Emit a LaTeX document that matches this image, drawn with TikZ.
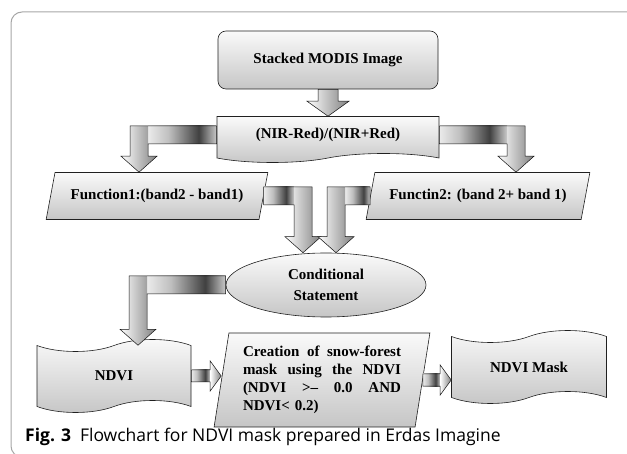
\documentclass[tikz,border=0pt]{standalone}
\usepackage{fontspec}
\setmainfont{Liberation Serif}
\newfontfamily\capfont{Open Sans}
\usetikzlibrary{shapes.geometric,shapes.symbols,calc}

\pgfdeclarehorizontalshading{metal}{100bp}{color(0bp)=(black!60); color(18bp)=(white); color(40bp)=(black!25); color(62bp)=(black!75); color(80bp)=(white); color(100bp)=(black!55)}

\tikzset{
  flowbox/.style={draw=gray!25!black, line width=0.6pt, top color=gray!4, bottom color=gray!45,
    font=\bfseries\fontsize{15}{18}\selectfont, align=center},
  slantbox/.style={flowbox, trapezium, trapezium stretches=true},
  barfill/.style={shading=metal},
  shaftfill/.style={left color=white, right color=black!50},
  arrowline/.style={draw=gray!15!black, line width=0.5pt}
}

% bent block arrow: #1 = 1 (bar runs right) or -1 (bar runs left), #2 = start, #3 = tip
\newcommand{\bentarrow}[3]{%
  \shade[barfill] ($(#2)+(0,-9)$) rectangle ($(#3|-#2)+(#1*-9,9)$);
  \shade[shaftfill] ($(#3|-#2)+(-9,-9)$) -- ($(#3)+(-9,-16)$) -- ($(#3)+(-18,-16)$) -- (#3)
    -- ($(#3)+(18,-16)$) -- ($(#3)+(9,-16)$) -- ($(#3|-#2)+(9,-9)$) -- cycle;
  \path[arrowline] ($(#2)+(0,-9)$) -- ($(#3|-#2)+(#1*9,-9)$) -- ($(#3)+(#1*9,-16)$)
    -- ($(#3)+(#1*18,-16)$) -- (#3) -- ($(#3)+(#1*-18,-16)$) -- ($(#3)+(#1*-9,-16)$)
    -- ($(#3|-#2)+(#1*-9,9)$) -- ($(#2)+(0,9)$) -- cycle;}
% short block arrow to the right
\newcommand{\sidearrow}[2]{%
  \shade[barfill] ($(#1)+(0,-6)$) rectangle ($(#2|-#1)+(-11,6)$);
  \shade[shaftfill] ($(#2|-#1)+(-11,-15)$) -- (#2|-#1) -- ($(#2|-#1)+(-11,15)$) -- cycle;
  \path[arrowline] ($(#1)+(0,-6)$) -- ($(#2|-#1)+(-11,-6)$) -- ($(#2|-#1)+(-11,-15)$)
    -- (#2|-#1) -- ($(#2|-#1)+(-11,15)$) -- ($(#2|-#1)+(-11,6)$) -- ($(#1)+(0,6)$) -- cycle;}

\begin{document}
\begin{tikzpicture}[x=1pt, y=-1pt]
    \useasboundingbox (0,0) rectangle (627,454);

    % Frame
    \draw[gray!70, line width=1pt, rounded corners=11pt] (640,12) -- (11,12) -- (11,457) -- (640,457);

    % Boxes
    \node[flowbox, rounded corners=8pt, minimum width=220pt, minimum height=58pt] (stack) at (328,60) {Stacked MODIS Image};
    \node[flowbox, tape, tape bend top=none, tape bend bottom=in and out, tape bend height=9pt,
          minimum width=222pt, minimum height=46pt] (nir) at (328,135) {(NIR-Red)/(NIR+Red)};

    \node[slantbox, trapezium left angle=69, trapezium right angle=111, minimum width=222pt, minimum height=47pt] (f1) at (157,196) {Function1:(band2 - band1)};
    \node[slantbox, trapezium left angle=69, trapezium right angle=111, minimum width=224pt, minimum height=47pt] (f2) at (478,196) {Functin2: (band 2+ band 1)};

    \node[flowbox, ellipse, minimum width=200pt, minimum height=64pt] (cond) at (326,285) {Conditional\\[3pt]Statement};

    \node[flowbox, tape, tape bend height=12pt, minimum width=154pt, minimum height=73pt] (ndvi) at (114,376) {NDVI};
    \node[slantbox, trapezium left angle=80, trapezium right angle=100, minimum width=216pt, minimum height=94pt,
          align=left, text width=158pt] (creat) at (322,380)
        {\makebox[158pt][s]{Creation\hfill of\hfill snow-forest}\\
         \makebox[158pt][s]{mask\hfill using\hfill the\hfill NDVI}\\
         \makebox[158pt][s]{(NDVI\hfill >–\hfill 0.0\hfill AND}\\
         NDVI< 0.2)};
    \node[flowbox, tape, tape bend height=12pt, minimum width=155pt, minimum height=73pt] (mask) at (529,367) {NDVI Mask};

    % Arrow tips
    \coordinate (f1top) at ($(f1.north)+(-18,0)$);
    \coordinate (f2top) at ($(f2.north)+(38,0)$);
    \coordinate (condl) at ($(cond.north)+(-23,0)$);
    \coordinate (condr) at ($(cond.north)+(10,0)$);
    \coordinate (ndvitop) at ($(ndvi.north)+(24,0)$);

    % Block arrows
    \shade[shaftfill, arrowline] ($(stack.south)+(-10,0)$) -- ($(nir.north)+(-10,-15)$) -- ($(nir.north)+(-21,-15)$) -- (nir.north)
        -- ($(nir.north)+(21,-15)$) -- ($(nir.north)+(10,-15)$) -- ($(stack.south)+(10,0)$) -- cycle;
    \bentarrow{-1}{nir.west}{f1top}
    \bentarrow{1}{nir.east}{f2top}
    \bentarrow{1}{f1.east}{condl}
    \bentarrow{-1}{f2.west}{condr}
    \bentarrow{-1}{cond.west}{ndvitop}
    \sidearrow{ndvi.east}{creat.west}
    \sidearrow{creat.east}{mask.west}

    % Caption
    \node[anchor=base west, inner sep=0pt, font=\capfont\fontsize{17.5}{21}\selectfont] (cap) at (25,442)
        {\textbf{Fig. 3}\hspace{9pt}Flowchart for NDVI mask prepared in Erdas Imagine};
\end{tikzpicture}
\end{document}
